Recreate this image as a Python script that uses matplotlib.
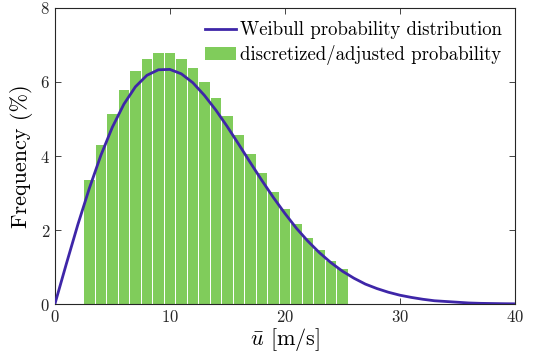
import numpy as np
import matplotlib
matplotlib.use("Agg")
import matplotlib.pyplot as plt

plt.rcParams['font.family'] = ['cmr10', 'DejaVu Serif']
plt.rcParams['mathtext.fontset'] = 'cm'
plt.rcParams['axes.formatter.use_mathtext'] = True

# discretized bins (m/s) and frequency (%)
bin_u = [3, 4, 5, 6, 7, 8, 9, 10, 11, 12, 13, 14, 15, 16, 17, 18, 19, 20, 21, 22, 23, 24, 25]
bin_freq = [3.36, 4.30, 5.13, 5.78, 6.29, 6.61, 6.77, 6.77, 6.63, 6.37, 6.01, 5.58, 5.08,
            4.57, 4.05, 3.53, 3.04, 2.57, 2.15, 1.78, 1.45, 1.17, 0.94]

curve_u = list(range(0, 41))
curve_f = [0.0, 1.09, 2.15, 3.13, 4.02, 4.78, 5.40, 5.87, 6.18, 6.33, 6.34, 6.22, 5.98,
           5.64, 5.24, 4.79, 4.31, 3.82, 3.34, 2.88, 2.45, 2.05, 1.70, 1.39, 1.12, 0.89,
           0.70, 0.54, 0.42, 0.32, 0.24, 0.18, 0.13, 0.09, 0.07, 0.05, 0.03, 0.02, 0.015,
           0.01, 0.007]

fig = plt.figure(figsize=(5.38, 3.62), dpi=100)
ax = fig.add_axes([0.102, 0.160, 0.855, 0.818])

ax.bar(bin_u, bin_freq, width=0.92, color='#80CC5B', edgecolor='none',
       label='discretized/adjusted probability', zorder=2)
ax.plot(curve_u, curve_f, color='#3E26A8', lw=2.0,
        label='Weibull probability distribution', zorder=3)

ax.set_xlim(0, 40)
ax.set_ylim(0, 8)
ax.set_xticks([0, 10, 20, 30, 40])
ax.set_yticks([0, 2, 4, 6, 8])
ax.tick_params(direction='in', top=True, right=True, labelsize=12, length=4,
               width=0.6, colors='#262626')
for s in ax.spines.values():
    s.set_linewidth(0.8)
    s.set_color('#262626')

ax.set_xlabel(r'$\bar{u}$ [m/s]', fontsize=16, labelpad=1)
ax.set_ylabel('Frequency (%)', fontsize=16, labelpad=5)

ax.legend(loc='upper right', frameon=False,
          fontsize=13.5, handlelength=1.65, handletextpad=0.2, borderaxespad=0.3,
          labelspacing=0.3)

fig.savefig('out.png', dpi=100)
